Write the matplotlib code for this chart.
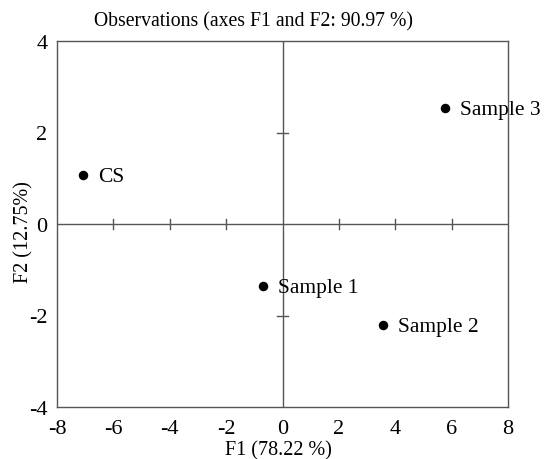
import matplotlib.pyplot as plt

plt.rcParams['font.family'] = ['Liberation Serif', 'DejaVu Serif']
plt.rcParams['axes.unicode_minus'] = False

# PCA observation scores
names = ["CS", "Sample 1", "Sample 2", "Sample 3"]
f1 = [-7.07, -0.69, 3.56, 5.76]
f2 = [1.07, -1.36, -2.21, 2.54]

xticks = [-8, -6, -4, -2, 0, 2, 4, 6, 8]
yticks = [-4, -2, 0, 2, 4]

fig = plt.figure(figsize=(5.45, 4.6), dpi=100)
ax = fig.add_axes([57/545, 1 - 408/460, 451/545, 366/460])

ax.set_xlim(-8, 8)
ax.set_ylim(-4, 4)
ax.set_xticks(xticks)
ax.set_yticks(yticks)
ax.tick_params(length=0, labelsize=16)
ax.tick_params(axis='x', pad=9)
ax.tick_params(axis='y', pad=7)
for s in ax.spines.values():
    s.set_color('#555555')
    s.set_linewidth(1)
    s.set_zorder(4)

# centre lines with their own small ticks
ax.axhline(0, color='#555555', lw=1)
ax.axvline(0, color='#555555', lw=1)
for t in xticks:
    if t not in (-8, 0, 8):
        ax.plot([t, t], [-0.12, 0.12], color='#555555', lw=1)
for t in yticks:
    if t not in (-4, 0, 4):
        ax.plot([-0.2, 0.2], [t, t], color='#555555', lw=1)

ax.scatter(f1, f2, s=34, color='black', zorder=3)
for n, x, y in zip(names, f1, f2):
    ax.annotate(n, (x, y), xytext=(11, -1), textcoords='offset points',
                va='center', ha='left', fontsize=15.5)

fig.text(253/545, 1 - 22/460, "Observations (axes F1 and F2: 90.97 %)",
         fontsize=14.2, ha='center', va='center')
fig.text(278/545, 1 - 451/460, "F1 (78.22 %)", fontsize=14.5,
         ha='center', va='center')
fig.text(24/545, 1 - 232/460, "F2 (12.75%)", fontsize=14.5,
         ha='center', va='center', rotation=90)

fig.savefig("out.png", dpi=100)
